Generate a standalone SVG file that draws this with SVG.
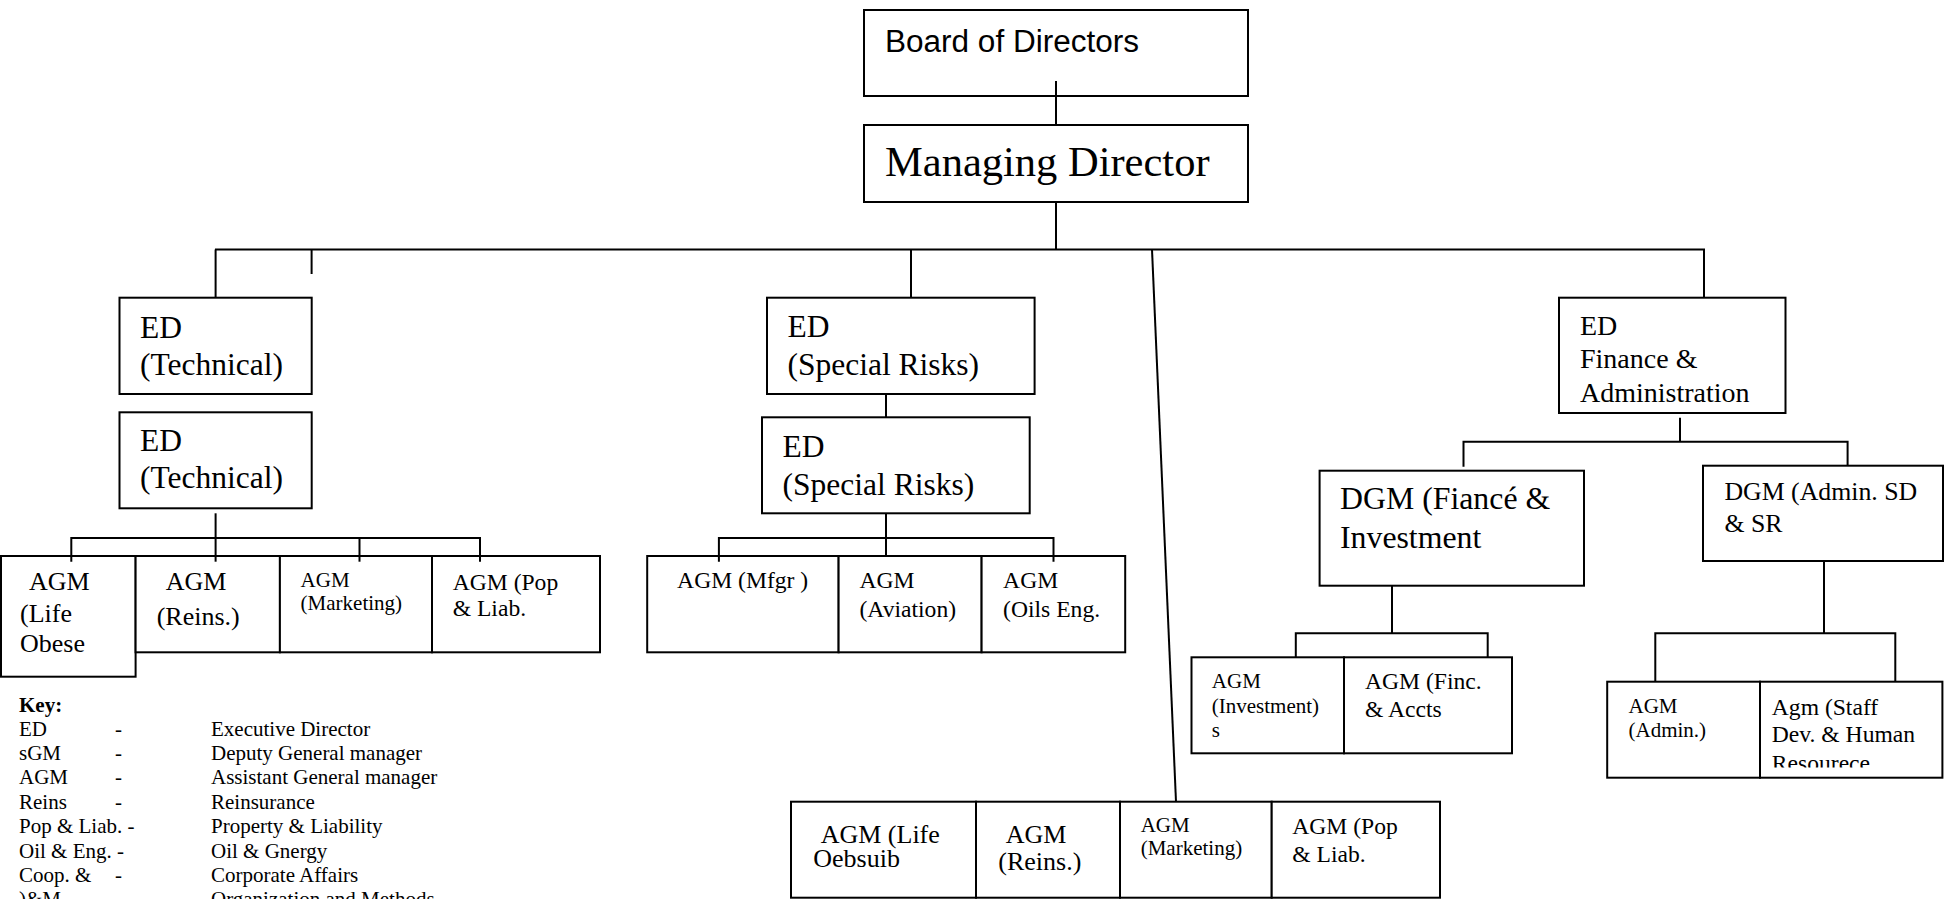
<svg xmlns="http://www.w3.org/2000/svg" width="1944" height="899" viewBox="0 0 1944 899">
<style>
.box{fill:#fff;stroke:#000;stroke-width:2}
.ln{stroke:#000;stroke-width:2;fill:none}
text{font-family:"Liberation Serif","Times New Roman",serif;fill:#000}
.sans{font-family:"Liberation Sans",Arial,sans-serif}
.f21{font-size:21px}.f24{font-size:23.6px}.f26{font-size:26px}.f28{font-size:28px}.f32{font-size:31.8px}.f315{font-size:31.5px}.f42{font-size:42.5px}.fk{font-size:21px}
</style>
<defs>
<clipPath id="clipRes" clipPathUnits="userSpaceOnUse"><rect x="1760" y="682" width="182" height="85.5"/></clipPath>
</defs>
<rect width="1944" height="899" fill="#fff"/>

<g id="board">
<rect class="box" x="864" y="10" width="384" height="86"/>
<text class="sans" x="885" y="52" font-size="31" textLength="254" lengthAdjust="spacingAndGlyphs">Board of Directors</text>
</g>
<g id="md">
<rect class="box" x="864" y="125" width="384" height="77"/>
<text class="f42" x="885" y="176">Managing Director</text>
</g>

<g id="ed-tech-1">
<rect class="box" x="119.5" y="297.7" width="192.2" height="96.3"/>
<text class="f315" x="140" y="338.3">ED</text>
<text class="f315" x="140" y="375">(Technical)</text>
</g>
<g id="ed-tech-2">
<rect class="box" x="119.5" y="412.3" width="192.2" height="96"/>
<text class="f315" x="140" y="450.7">ED</text>
<text class="f315" x="140" y="488.3">(Technical)</text>
</g>

<g id="agm-life-1">
<rect class="box" x="1" y="556" width="134.6" height="120.7"/>
<text class="f26" x="29" y="590">AGM</text>
<text class="f26" x="20" y="621.7">(Life</text>
<text class="f26" x="20" y="651.7">Obese</text>
</g>
<g id="agm-reins-1">
<rect class="box" x="135.6" y="556" width="144.3" height="96.3"/>
<text class="f26" x="165.8" y="590">AGM</text>
<text class="f26" x="156.7" y="625">(Reins.)</text>
</g>
<g id="agm-marketing-1">
<rect class="box" x="279.9" y="556" width="152.1" height="96.3"/>
<text class="f21" x="300.6" y="586.7">AGM</text>
<text class="f21" x="300.6" y="610">(Marketing)</text>
</g>
<g id="agm-pop-1">
<rect class="box" x="432" y="556" width="168" height="96.3"/>
<text class="f24" x="452.7" y="590">AGM (Pop</text>
<text class="f24" x="452.7" y="616">&amp; Liab.</text>
</g>

<g id="ed-sr-1">
<rect class="box" x="767" y="297.7" width="267.6" height="96.3"/>
<text class="f315" x="787.5" y="337.3">ED</text>
<text class="f315" x="787.5" y="375">(Special Risks)</text>
</g>
<g id="ed-sr-2">
<rect class="box" x="762" y="417.3" width="267.7" height="96"/>
<text class="f315" x="782.6" y="456.7">ED</text>
<text class="f315" x="782.6" y="495">(Special Risks)</text>
</g>

<g id="agm-mfgr">
<rect class="box" x="647.2" y="556" width="191.4" height="96.3"/>
<text class="f24" x="677.1" y="588.3">AGM (Mfgr )</text>
</g>
<g id="agm-aviation">
<rect class="box" x="838.6" y="556" width="143" height="96.3"/>
<text class="f24" x="859.5" y="588.3">AGM</text>
<text class="f24" x="859.5" y="616.7">(Aviation)</text>
</g>
<g id="agm-oils">
<rect class="box" x="981.6" y="556" width="143.6" height="96.3"/>
<text class="f24" x="1003.1" y="588.3">AGM</text>
<text class="f24" x="1003.1" y="616.7">(Oils Eng.</text>
</g>

<g id="ed-finance">
<rect class="box" x="1559" y="297.7" width="226.5" height="115.3"/>
<text class="f28" x="1580" y="335">ED</text>
<text class="f28" x="1580" y="368">Finance &amp;</text>
<text class="f28" x="1580" y="401.5">Administration</text>
</g>
<g id="dgm-finance">
<rect class="box" x="1319.6" y="470.7" width="264.4" height="115"/>
<text class="f32" x="1340" y="509.3">DGM (Fiancé &amp;</text>
<text class="f32" x="1340" y="547.7">Investment</text>
</g>
<g id="dgm-admin">
<rect class="box" x="1703" y="465.7" width="240" height="95.3"/>
<text x="1724.4" y="500" font-size="25.8">DGM (Admin. SD</text>
<text x="1724.4" y="531.7" font-size="25.8">&amp; SR</text>
</g>

<g id="agm-investment">
<rect class="box" x="1191.5" y="657.3" width="152.5" height="96"/>
<text class="f21" x="1211.8" y="687.7">AGM</text>
<text class="f21" x="1211.8" y="713">(Investment)</text>
<text class="f21" x="1211.8" y="737">s</text>
</g>
<g id="agm-finc">
<rect class="box" x="1344" y="657.3" width="168" height="96"/>
<text class="f24" x="1365" y="689.3">AGM (Finc.</text>
<text class="f24" x="1365" y="716.7">&amp; Accts</text>
</g>
<g id="agm-admin">
<rect class="box" x="1607.2" y="681.7" width="152.8" height="96"/>
<text class="f21" x="1628.5" y="712.7">AGM</text>
<text class="f21" x="1628.5" y="736.7">(Admin.)</text>
</g>
<g id="agm-staff">
<rect class="box" x="1760" y="681.7" width="182.4" height="96"/>
<text class="f24" x="1771.8" y="715">Agm (Staff</text>
<text class="f24" x="1771.8" y="741.5">Dev. &amp; Human</text>
<g clip-path="url(#clipRes)">
<text class="f24" x="1771.8" y="770.5">Resourece</text>
</g>
</g>

<g id="agm-life-2">
<rect class="box" x="791" y="801.7" width="185" height="96"/>
<text class="f26" x="820.7" y="843.3">AGM (Life</text>
<text class="f26" x="813.3" y="867.3">Oebsuib</text>
</g>
<g id="agm-reins-2">
<rect class="box" x="976" y="801.7" width="144" height="96"/>
<text class="f26" x="1005.7" y="843.3">AGM</text>
<text class="f26" x="998.3" y="870">(Reins.)</text>
</g>
<g id="agm-marketing-2">
<rect class="box" x="1120" y="801.7" width="151.7" height="96"/>
<text class="f21" x="1140.7" y="831.7">AGM</text>
<text class="f21" x="1140.7" y="855">(Marketing)</text>
</g>
<g id="agm-pop-2">
<rect class="box" x="1271.7" y="801.7" width="168.3" height="96"/>
<text class="f24" x="1292.3" y="834">AGM (Pop</text>
<text class="f24" x="1292.3" y="861.7">&amp; Liab.</text>
</g>

<g id="key">
<text class="fk" x="19" y="711.7" font-weight="bold">Key:</text>
<text class="fk" x="19" y="735.5">ED</text>
<text class="fk" x="115" y="735.5">-</text>
<text class="fk" x="211" y="735.5">Executive Director</text>
<text class="fk" x="19" y="759.9">sGM</text>
<text class="fk" x="115" y="759.9">-</text>
<text class="fk" x="211" y="759.9">Deputy General manager</text>
<text class="fk" x="19" y="784.3">AGM</text>
<text class="fk" x="115" y="784.3">-</text>
<text class="fk" x="211" y="784.3">Assistant General manager</text>
<text class="fk" x="19" y="808.7">Reins</text>
<text class="fk" x="115" y="808.7">-</text>
<text class="fk" x="211" y="808.7">Reinsurance</text>
<text class="fk" x="19" y="833.1">Pop &amp; Liab. -</text>
<text class="fk" x="211" y="833.1">Property &amp; Liability</text>
<text class="fk" x="19" y="857.5">Oil &amp; Eng. -</text>
<text class="fk" x="211" y="857.5">Oil &amp; Gnergy</text>
<text class="fk" x="19" y="881.9">Coop. &amp;</text>
<text class="fk" x="115" y="881.9">-</text>
<text class="fk" x="211" y="881.9">Corporate Affairs</text>
<text class="fk" x="19" y="906.3">)&amp;M</text>
<text class="fk" x="211" y="906.3">Organization and Methods</text>
</g>

<g id="connectors" class="ln">
<line x1="1056" y1="81" x2="1056" y2="125"/>
<line x1="1056" y1="202" x2="1056" y2="249.5"/>
<line x1="215" y1="249.5" x2="1705" y2="249.5"/>
<line x1="311.6" y1="249.5" x2="311.6" y2="274"/>
<line x1="215.6" y1="249.5" x2="215.6" y2="297.7"/>
<line x1="911" y1="249.5" x2="911" y2="297.7"/>
<line x1="1152" y1="249.5" x2="1176" y2="801.7"/>
<line x1="1704" y1="249.5" x2="1704" y2="297.7"/>
<line x1="215.6" y1="513.3" x2="215.6" y2="561.7"/>
<polyline points="71.3,561.7 71.3,538 480,538 480,561.7"/>
<line x1="359.5" y1="538" x2="359.5" y2="561.7"/>
<line x1="886" y1="394" x2="886" y2="417.3"/>
<line x1="886" y1="513.3" x2="886" y2="556"/>
<polyline points="718.9,561.7 718.9,538 1053.5,538 1053.5,561.7"/>
<line x1="1680" y1="417.7" x2="1680" y2="441.7"/>
<polyline points="1463.5,466.7 1463.5,441.7 1847.6,441.7 1847.6,465.7"/>
<line x1="1392" y1="585.7" x2="1392" y2="633.3"/>
<polyline points="1295.8,657.3 1295.8,633.3 1487.7,633.3 1487.7,657.3"/>
<line x1="1824" y1="561" x2="1824" y2="633.3"/>
<polyline points="1655.3,681.7 1655.3,633.3 1895.3,633.3 1895.3,681.7"/>
</g>
</svg>
